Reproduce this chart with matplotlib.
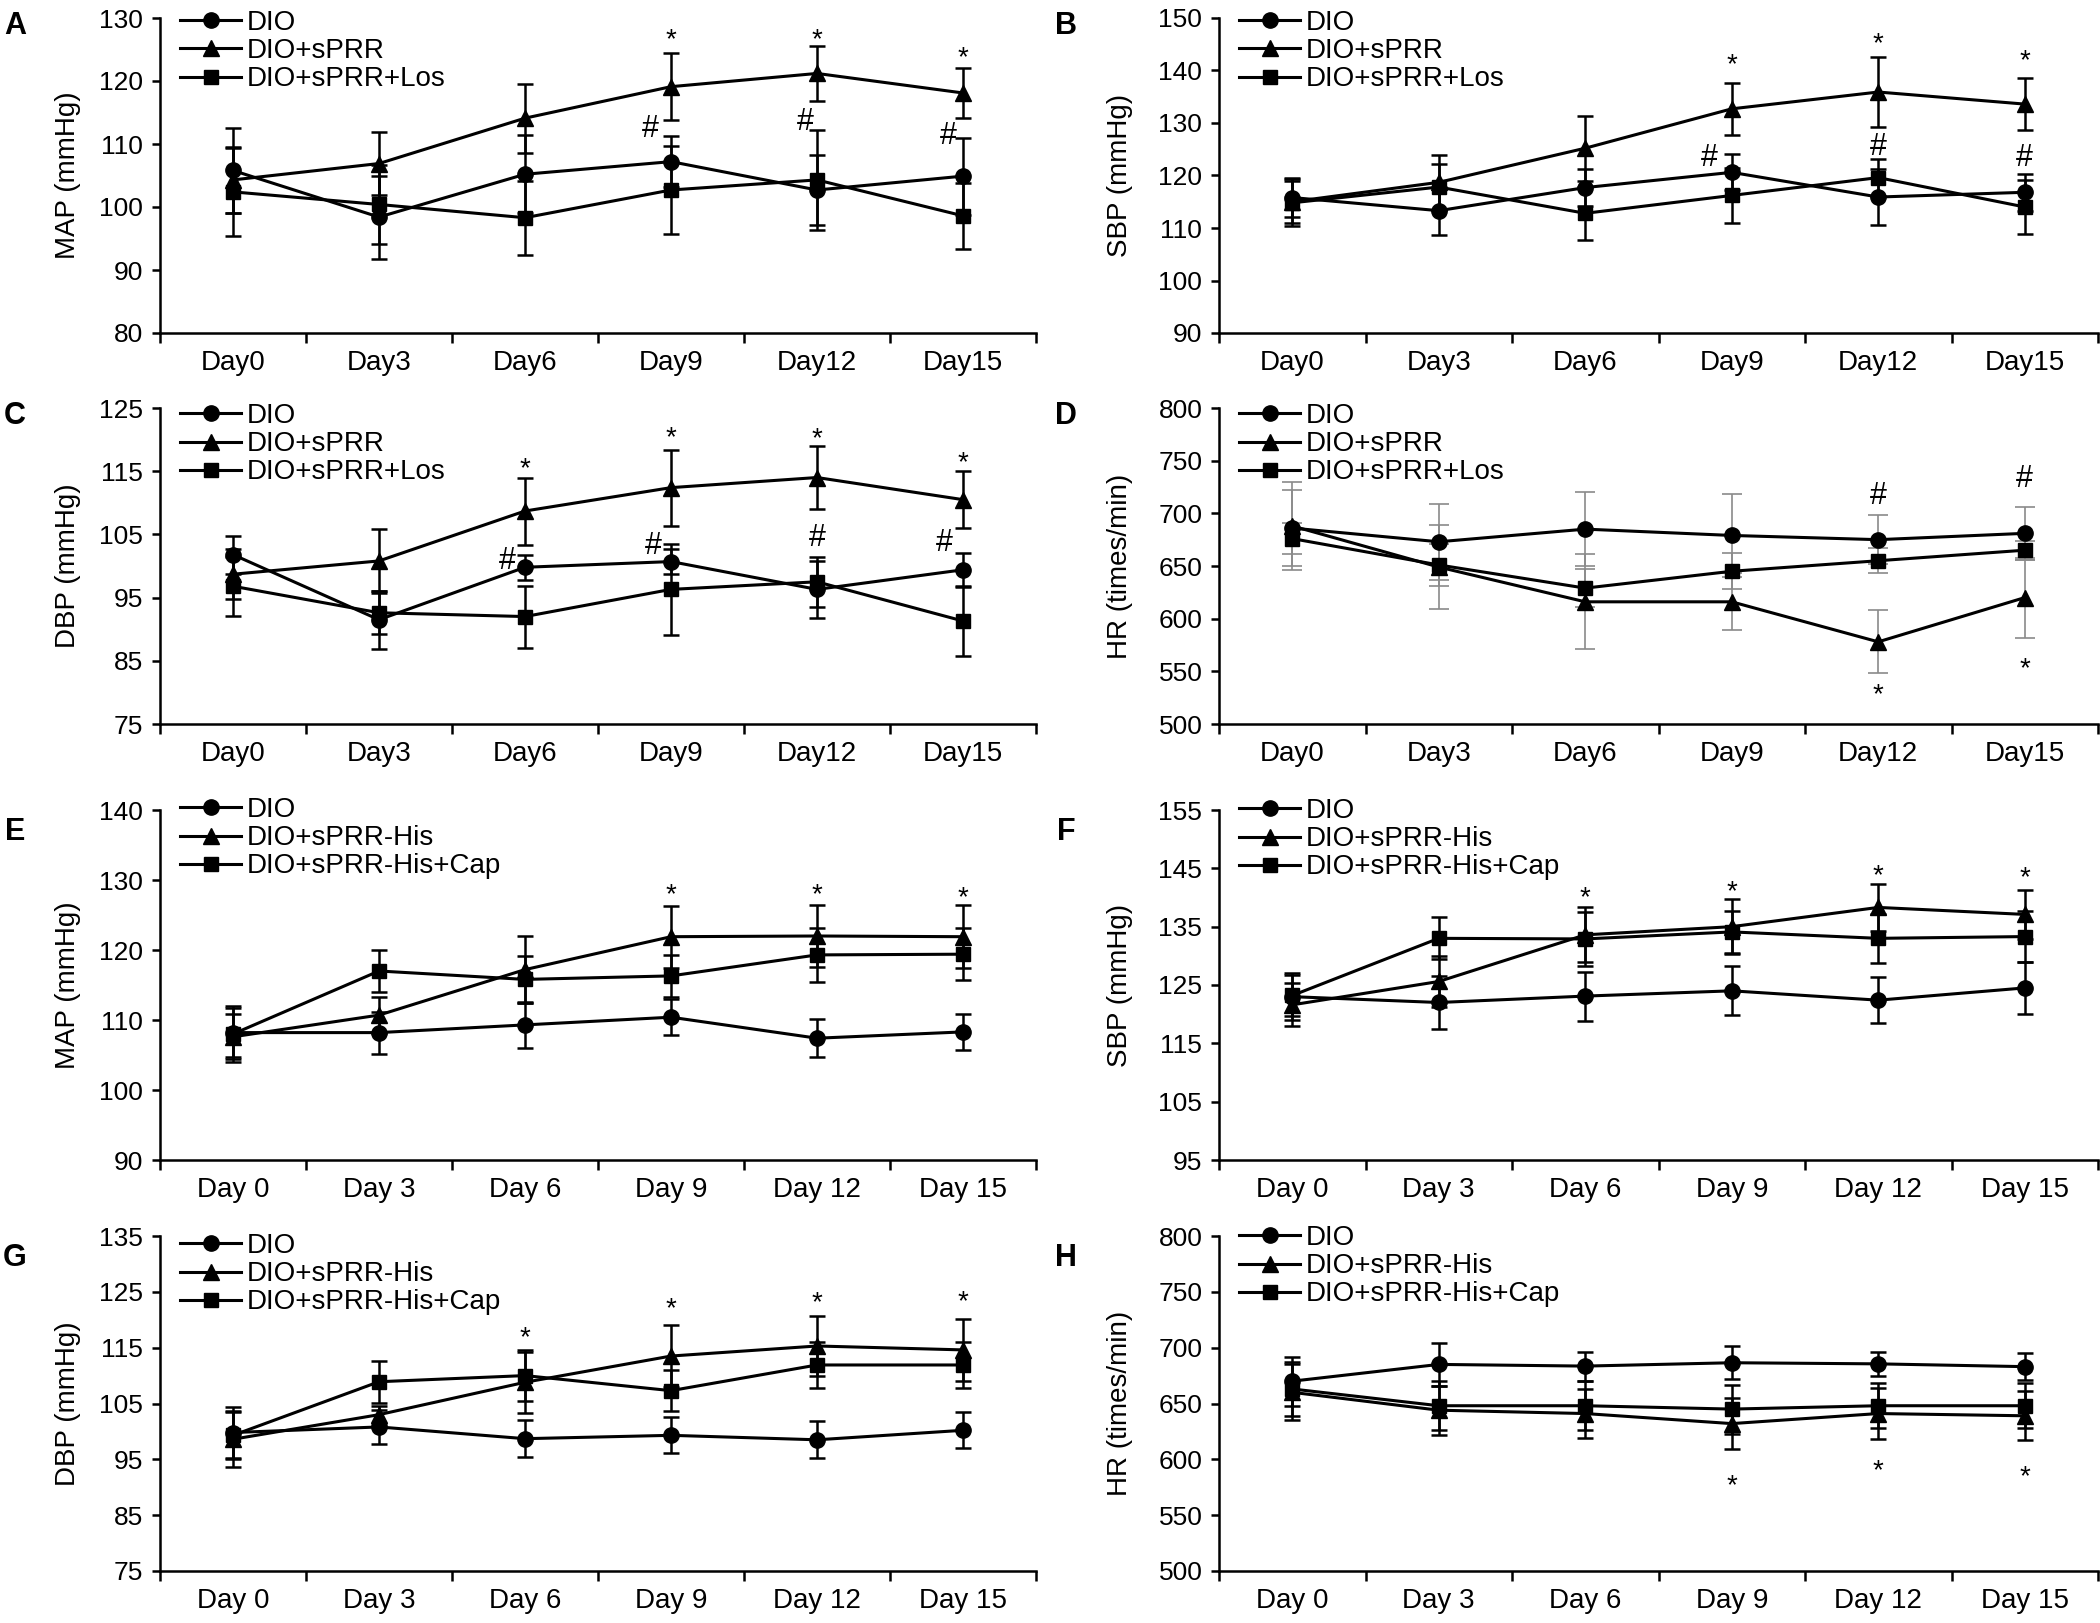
import matplotlib.pyplot as plt
import numpy as np

plt.rcParams['font.family'] = ['Liberation Sans', 'DejaVu Sans']

days_top = ['Day0', 'Day3', 'Day6', 'Day9', 'Day12', 'Day15']
days_bottom = ['Day 0', 'Day 3', 'Day 6', 'Day 9', 'Day 12', 'Day 15']
groups_los = ['DIO', 'DIO+sPRR', 'DIO+sPRR+Los']
groups_cap = ['DIO', 'DIO+sPRR-His', 'DIO+sPRR-His+Cap']

# A - MAP, sPRR / Los
a_dio = [105.8, 98.4, 105.2, 107.2, 102.7, 104.9]
a_dio_se = [6.8, 6.6, 6.2, 4.0, 5.5, 6.1]
a_sprr = [104.3, 106.9, 114.1, 119.1, 121.2, 118.1]
a_sprr_se = [5.2, 5.0, 5.5, 5.3, 4.3, 3.9]
a_los = [102.4, 100.4, 98.3, 102.7, 104.3, 98.6]
a_los_se = [7.0, 6.2, 5.9, 7.0, 8.0, 5.2]

# B - SBP
b_dio = [115.8, 113.3, 117.7, 120.6, 115.9, 116.8]
b_dio_se = [3.8, 4.6, 3.5, 3.4, 5.3, 3.5]
b_sprr = [115.0, 118.7, 125.2, 132.7, 135.9, 133.6]
b_sprr_se = [4.0, 5.2, 6.2, 5.0, 6.7, 5.0]
b_los = [114.8, 117.8, 112.8, 116.2, 119.6, 114.0]
b_los_se = [4.5, 4.4, 5.0, 5.2, 3.6, 5.2]

# C - DBP
c_dio = [101.8, 91.5, 99.8, 100.7, 96.3, 99.4]
c_dio_se = [3.0, 4.6, 2.0, 2.0, 4.5, 2.7]
c_sprr = [98.7, 100.8, 108.7, 112.4, 114.0, 110.5]
c_sprr_se = [4.0, 5.0, 5.3, 6.0, 5.0, 4.5]
c_los = [96.8, 92.6, 92.0, 96.3, 97.5, 91.3]
c_los_se = [4.7, 3.4, 4.9, 7.2, 4.0, 5.5]

# D - HR
d_dio = [686, 673, 685, 679, 675, 681]
d_dio_se = [36, 36, 35, 39, 23, 25]
d_sprr = [688, 649, 616, 616, 578, 620]
d_sprr_se = [42, 40, 45, 27, 30, 38]
d_los = [676, 651, 629, 645, 655, 665]
d_los_se = [15, 20, 18, 17, 12, 9]

# E - MAP, sPRR-His / Cap
e_dio = [108.2, 108.2, 109.3, 110.4, 107.4, 108.3]
e_dio_se = [3.5, 3.0, 3.3, 2.6, 2.7, 2.6]
e_sprr = [107.6, 110.7, 117.2, 121.9, 122.0, 121.9]
e_sprr_se = [3.2, 2.6, 4.8, 4.4, 4.4, 4.5]
e_cap = [108.0, 117.0, 115.8, 116.3, 119.3, 119.4]
e_cap_se = [4.0, 3.0, 3.3, 3.0, 3.9, 3.7]

# F - SBP
f_dio = [123.0, 122.0, 123.1, 124.0, 122.4, 124.5]
f_dio_se = [4.0, 4.5, 4.2, 4.2, 4.0, 4.4]
f_sprr = [121.6, 125.6, 133.6, 135.0, 138.3, 137.1]
f_sprr_se = [3.7, 4.3, 4.7, 4.7, 4.0, 4.2]
f_cap = [123.2, 133.0, 132.9, 134.1, 133.0, 133.3]
f_cap_se = [3.5, 3.6, 4.6, 3.6, 4.2, 4.3]

# G - DBP
g_dio = [99.8, 100.8, 98.7, 99.3, 98.5, 100.2]
g_dio_se = [4.5, 3.1, 3.3, 3.2, 3.3, 3.2]
g_sprr = [98.6, 103.0, 108.8, 113.5, 115.3, 114.6]
g_sprr_se = [5.0, 1.6, 5.5, 5.5, 5.3, 5.6]
g_cap = [99.3, 108.9, 110.0, 107.3, 111.9, 111.9]
g_cap_se = [4.2, 3.8, 4.6, 3.7, 4.2, 4.2]

# H - HR
h_dio = [670, 685, 683.5, 686.5, 685.5, 683]
h_dio_se = [22, 19, 13, 15, 11, 12]
h_sprr = [660, 644, 641, 632, 641, 639]
h_sprr_se = [25, 22, 22, 23, 23, 22]
h_cap = [663, 648, 648, 645, 648, 648]
h_cap_se = [24, 22, 22, 22, 20, 20]

# significance marks: (day index, y position, x shift)
a_star = [(3, 127.8), (4, 127.8), (5, 125.0)]
a_hash = [(3, 112.8, -0.14), (4, 114.0, -0.08), (5, 111.8, -0.1)]
b_star = [(3, 142.6), (4, 146.6), (5, 143.4)]
b_hash = [(3, 123.9, -0.15), (4, 126.0, 0), (5, 124.0, 0)]
c_star = [(2, 116.6), (3, 121.6), (4, 121.3), (5, 117.6)]
c_hash = [(2, 101.3, -0.12), (3, 103.7, -0.12), (4, 105.0, 0), (5, 104.2, -0.13)]
d_star = [(4, 535), (5, 560)]
d_hash = [(4, 719, 0), (5, 736, 0)]
e_star = [(3, 129.0), (4, 129.0), (5, 128.6)]
f_star = [(2, 141.3), (3, 142.4), (4, 145.1), (5, 144.7)]
g_star = [(2, 118.1), (3, 123.4), (4, 124.5), (5, 124.6)]
h_star = [(3, 583), (4, 597), (5, 591)]

W, H = 2100, 1623
fig = plt.figure(figsize=(W / 100, H / 100), dpi=100)

col_x = [(160, 1036), (1219, 2098)]
row_y = [(18, 333), (408, 724), (810, 1160), (1236, 1571)]
markers = ['o', '^', 's']
msizes = [11, 11, 10]

panels = [
    ('A', 0, 0, 'MAP (mmHg)', days_top, groups_los,
     [a_dio, a_sprr, a_los], [a_dio_se, a_sprr_se, a_los_se], np.arange(80, 131, 10),
     a_star, a_hash, 'black', 8),
    ('B', 0, 1, 'SBP (mmHg)', days_top, groups_los,
     [b_dio, b_sprr, b_los], [b_dio_se, b_sprr_se, b_los_se], np.arange(90, 151, 10),
     b_star, b_hash, 'black', 8),
    ('C', 1, 0, 'DBP (mmHg)', days_top, groups_los,
     [c_dio, c_sprr, c_los], [c_dio_se, c_sprr_se, c_los_se], np.arange(75, 126, 10),
     c_star, c_hash, 'black', 5),
    ('D', 1, 1, 'HR (times/min)', days_top, groups_los,
     [d_dio, d_sprr, d_los], [d_dio_se, d_sprr_se, d_los_se], np.arange(500, 801, 50),
     d_star, d_hash, '#8a8a8a', 5),
    ('E', 2, 0, 'MAP (mmHg)', days_bottom, groups_cap,
     [e_dio, e_sprr, e_cap], [e_dio_se, e_sprr_se, e_cap_se], np.arange(90, 141, 10),
     e_star, [], 'black', 13),
    ('F', 2, 1, 'SBP (mmHg)', days_bottom, groups_cap,
     [f_dio, f_sprr, f_cap], [f_dio_se, f_sprr_se, f_cap_se], np.arange(95, 156, 10),
     f_star, [], 'black', 12),
    ('G', 3, 0, 'DBP (mmHg)', days_bottom, groups_cap,
     [g_dio, g_sprr, g_cap], [g_dio_se, g_sprr_se, g_cap_se], np.arange(75, 136, 10),
     g_star, [], 'black', 3),
    ('H', 3, 1, 'HR (times/min)', days_bottom, groups_cap,
     [h_dio, h_sprr, h_cap], [h_dio_se, h_sprr_se, h_cap_se], np.arange(500, 801, 50),
     h_star, [], 'black', 11),
]

for (letter, r, c, ylabel, days, groups, means, ses, yticks,
     stars, hashes, ecolor, leg_up) in panels:
    x0, x1 = col_x[c]
    y0, y1 = row_y[r]
    ax = fig.add_axes([x0 / W, 1 - y1 / H, (x1 - x0) / W, (y1 - y0) / H])
    x = np.arange(len(days))

    for i in range(3):
        if ecolor == 'black':
            ax.errorbar(x, means[i], yerr=ses[i], fmt='none', ecolor='black',
                        elinewidth=1.8, capsize=6, capthick=1.8, zorder=2)
        else:
            ax.errorbar(x, means[i], yerr=ses[i], fmt='none', ecolor=ecolor,
                        elinewidth=1.2, capsize=7, capthick=1.2, zorder=2)
    handles = []
    for i in range(3):
        ln, = ax.plot(x, means[i], color='black', lw=2.2, marker=markers[i],
                      markersize=msizes[i], label=groups[i], zorder=3)
        handles.append(ln)

    for idx, yv in stars:
        ax.annotate('*', xy=(idx, yv), xytext=(0, -11), textcoords='offset points',
                    ha='center', va='baseline', fontsize=20)
    for idx, yv, dx in hashes:
        ax.annotate('#', xy=(idx + dx, yv), xytext=(0, -8), textcoords='offset points',
                    ha='center', va='baseline', fontsize=22)

    ax.set_xlim(-0.5, len(days) - 0.5)
    ax.set_ylim(yticks[0], yticks[-1])
    ax.set_yticks(yticks)
    ax.set_xticks(np.arange(-0.5, len(days)), minor=False)
    ax.set_xticklabels([])
    ax.set_xticks(x, minor=True)
    ax.set_xticklabels(days, minor=True)
    ax.tick_params(axis='x', which='major', direction='out', length=7, width=1.8)
    ax.tick_params(axis='x', which='minor', length=0, pad=12, labelsize=20)
    ax.tick_params(axis='y', direction='out', length=6, width=1.8, pad=6, labelsize=19)
    for s in ['top', 'right']:
        ax.spines[s].set_visible(False)
    for s in ['left', 'bottom']:
        ax.spines[s].set_linewidth(1.8)

    ax.set_ylabel(ylabel, fontsize=20)
    ax.yaxis.set_label_coords(-0.09 if c == 0 else -0.098, 0.5)

    ax_h = y1 - y0
    ax.legend(handles=handles, loc='upper left',
              bbox_to_anchor=(20 / (x1 - x0), 1 + leg_up / ax_h),
              frameon=False, fontsize=20, handlelength=2.2, handletextpad=0.2,
              labelspacing=0.08, borderpad=0, borderaxespad=0, numpoints=1)

    lx = 15 if c == 0 else 1066
    ly = y0 + (8 if r < 2 else 22)
    fig.text(lx / W, 1 - ly / H, letter, fontsize=22, fontweight='bold',
             ha='center', va='center')

fig.savefig('out.png', dpi=100)
